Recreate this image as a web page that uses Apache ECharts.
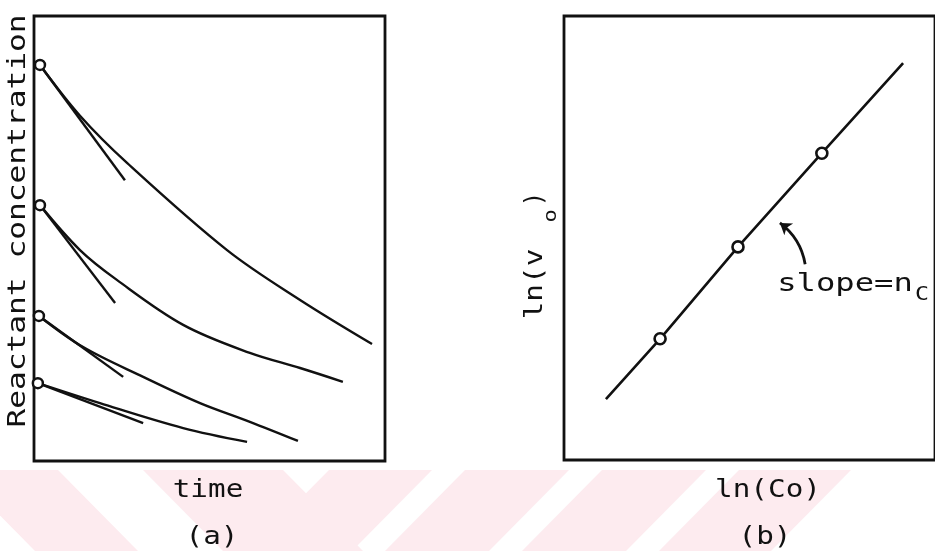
<!DOCTYPE html>
<html><head><meta charset="utf-8">
<script src="https://cdn.jsdelivr.net/npm/echarts@6/dist/echarts.min.js"></script>
<style>html,body{margin:0;padding:0;background:#fff}#c{width:935px;height:551px}</style>
</head><body><div id="c"></div>
<script>
// Panel (a): reactant concentration vs time (arbitrary units 0-10)
const curve1 = [[0.17,8.90],[1.31,7.76],[2.65,6.70],[5.50,4.74],[7.58,3.62],[9.63,2.63]];
const curve2 = [[0.17,5.75],[1.31,4.74],[2.36,4.07],[4.25,3.06],[6.15,2.43],[7.58,2.09],[8.80,1.78]];
const curve3 = [[0.14,3.26],[1.40,2.56],[3.11,1.89],[4.73,1.30],[6.15,0.88],[7.52,0.45]];
const curve4 = [[0.11,1.75],[1.88,1.30],[4.25,0.74],[6.07,0.43]];
const tangent1 = [[0.17,8.90],[2.59,6.31]];
const tangent2 = [[0.17,5.75],[2.31,3.55]];
const tangent3 = [[0.14,3.26],[2.54,1.89]];
const tangent4 = [[0.11,1.75],[3.11,0.85]];
const initialPoints = [[0.17,8.90],[0.17,5.75],[0.14,3.26],[0.11,1.75]];
// Panel (b): ln(v0) vs ln(C0)
const lnLine = [[1.13,1.37],[2.59,2.73],[4.69,4.80],[6.95,6.91],[9.14,8.94]];
const lnPoints = [[2.59,2.73],[4.69,4.80],[6.95,6.91]];
const arrowPath = [[6.50,4.41],[5.82,5.34]];
// Text labels
const labelYa = 'Reactant concentration';
const labelXa = 'time';
const labelPa = '(a)';
const labelXb = 'ln(Co)';
const labelPb = '(b)';
const labelYbMain = 'ln(v';
const labelYbSub = 'o';
const labelYbEnd = ')';
const slopeMain = 'slope=n';
const slopeSub = 'C';

const FONT = '"DejaVu Sans Mono","Liberation Mono",monospace';
const SX = 1.22;
function txt(text, x, y, size, extra) {
  return Object.assign({
    type: 'text', x: x, y: y, scaleX: SX, z: 10,
    style: { text: text, font: size + 'px ' + FONT, fill: '#111',
      textAlign: 'center', textVerticalAlign: 'middle', align: 'center', verticalAlign: 'middle' }
  }, extra || {});
}
const PINK = '#fdebef';
function poly(pts) { return { type: 'polygon', z: -10, silent: true, shape: { points: pts }, style: { fill: PINK } }; }

const lineStyle = { color: '#111', width: 2.4 };
function curve(data, smooth) {
  return { type: 'line', xAxisIndex: 0, yAxisIndex: 0, data: data, smooth: smooth, symbol: 'none',
    lineStyle: lineStyle, silent: true, animation: false };
}

const chart = echarts.init(document.getElementById('c'), null, { renderer: 'canvas' });
chart.setOption({
  animation: false,
  backgroundColor: '#fff',
  grid: [
    { left: 34, top: 16, width: 351, height: 445, show: true, borderColor: '#111', borderWidth: 2.8, backgroundColor: 'transparent' },
    { left: 564, top: 16, right: -6, height: 444, show: true, borderColor: '#111', borderWidth: 2.8, backgroundColor: 'transparent' }
  ],
  xAxis: [
    { gridIndex: 0, type: 'value', min: 0, max: 10, show: false },
    { gridIndex: 1, type: 'value', min: 0, max: 10, show: false }
  ],
  yAxis: [
    { gridIndex: 0, type: 'value', min: 0, max: 10, show: false },
    { gridIndex: 1, type: 'value', min: 0, max: 10, show: false }
  ],
  graphic: [
    poly([[-45,470],[58,470],[138,551],[35,551]]),
    poly([[143,470],[283,470],[363,551],[223,551]]),
    poly([[329,470],[432,470],[352,551],[249,551]]),
    poly([[465,470],[569,470],[489,551],[385,551]]),
    poly([[602,470],[706,470],[626,551],[522,551]]),
    poly([[739,470],[851,470],[771,551],[659,551]]),
    txt(labelXa, 208, 491, 24),
    txt(labelPa, 212, 538, 24),
    txt(labelXb, 768, 491, 24),
    txt(labelPb, 765, 538, 24),
    txt(labelYa, 19, 221, 24, { rotation: Math.PI / 2, scaleX: 1.3 }),
    txt(labelYbMain, 536, 284, 24, { rotation: Math.PI / 2 }),
    txt(labelYbSub, 551, 216, 18, { rotation: Math.PI / 2 }),
    txt(labelYbEnd, 536, 199, 24, { rotation: Math.PI / 2, scaleX: 1 }),
    txt(slopeMain, 845, 285, 24, { scaleX: 1.34 }),
    txt(slopeSub, 922, 295, 19)
  ],
  series: [
    curve(curve1, 0.35), curve(curve2, 0.35), curve(curve3, 0.35), curve(curve4, 0.35),
    curve(tangent1, false), curve(tangent2, false), curve(tangent3, false), curve(tangent4, false),
    { type: 'scatter', xAxisIndex: 0, yAxisIndex: 0, data: initialPoints, symbol: 'circle', symbolSize: 10, z: 5,
      itemStyle: { color: '#fff', borderColor: '#111', borderWidth: 2.5, opacity: 1 }, silent: true },
    { type: 'line', xAxisIndex: 1, yAxisIndex: 1, data: lnLine, symbol: 'none', lineStyle: { color: '#111', width: 2.6 }, silent: true },
    { type: 'scatter', xAxisIndex: 1, yAxisIndex: 1, data: lnPoints, symbol: 'circle', symbolSize: 11, z: 5,
      itemStyle: { color: '#fff', borderColor: '#111', borderWidth: 2.6, opacity: 1 }, silent: true },
    { type: 'lines', coordinateSystem: 'cartesian2d', xAxisIndex: 1, yAxisIndex: 1, silent: true,
      symbol: ['none', 'arrow'], symbolSize: 11,
      lineStyle: { color: '#111', width: 2.8, curveness: -0.2, opacity: 1 },
      data: [{ coords: arrowPath }] }
  ]
});
</script></body></html>
